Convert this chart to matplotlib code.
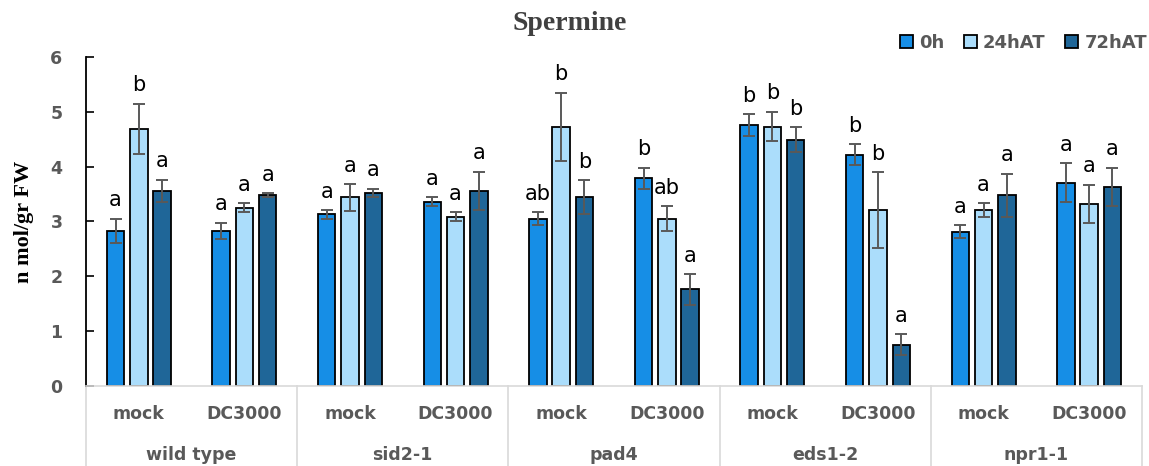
import matplotlib
matplotlib.use("Agg")
import matplotlib.pyplot as plt
import numpy as np

# Spermine content per genotype / treatment / time point
genotypes = ["wild type", "sid2-1", "pad4", "eds1-2", "npr1-1"]
treatments = ["mock", "DC3000"]
series = ["0h", "24hAT", "72hAT"]

# values ordered: wt mock, wt DC3000, sid2-1 mock, sid2-1 DC3000, ...
vals_0h = [2.83, 2.83, 3.13, 3.36, 3.05, 3.79, 4.76, 4.22, 2.81, 3.71]
vals_24h = [4.69, 3.25, 3.44, 3.09, 4.73, 3.05, 4.73, 3.21, 3.21, 3.32]
vals_72h = [3.56, 3.48, 3.52, 3.56, 3.44, 1.76, 4.49, 0.75, 3.48, 3.63]

err_0h = [0.22, 0.15, 0.08, 0.08, 0.12, 0.19, 0.20, 0.19, 0.12, 0.35]
err_24h = [0.46, 0.08, 0.24, 0.08, 0.62, 0.23, 0.27, 0.69, 0.12, 0.35]
err_72h = [0.20, 0.04, 0.08, 0.35, 0.31, 0.28, 0.23, 0.19, 0.39, 0.35]

let_0h = ["a", "a", "a", "a", "ab", "b", "b", "b", "a", "a"]
let_24h = ["b", "a", "a", "a", "b", "ab", "b", "b", "a", "a"]
let_72h = ["a", "a", "a", "a", "b", "a", "b", "a", "a", "a"]

colors = ["#168EE6", "#ABDDFB", "#1F6698"]
gray = "#595959"

values = [vals_0h, vals_24h, vals_72h]
errors = [err_0h, err_24h, err_72h]
letters = [let_0h, let_24h, let_72h]

fig = plt.figure(figsize=(11.49, 4.66), dpi=100)
ax = fig.add_axes([86 / 1149, 80 / 466, (1142 - 86) / 1149, 329 / 466])

n = len(vals_0h)
x = np.arange(n)
pitch = 0.22
width = 0.165

for k in range(3):
    xs = x + (k - 1) * pitch
    ax.bar(xs, values[k], width=width, color=colors[k], edgecolor="black",
           linewidth=1.3, label=series[k], zorder=2)
    ax.errorbar(xs, values[k], yerr=errors[k], fmt="none", ecolor=gray,
                elinewidth=1.4, capsize=4.5, capthick=1.4, zorder=3)
    for xi, v, e, t in zip(xs, values[k], errors[k], letters[k]):
        ax.annotate(t, (xi, v + e), xytext=(0, 6), textcoords="offset points",
                    ha="center", va="bottom", fontsize=15, color="black",
                    family="DejaVu Sans")

ax.set_xlim(-0.5, n - 0.5)
ax.set_ylim(0, 6)
ax.set_yticks(range(0, 7))
ax.tick_params(axis="y", direction="in", length=6, width=1.2, pad=17,
               labelsize=12.5, labelcolor=gray, color="black")
for lab in ax.get_yticklabels():
    lab.set_fontweight("bold")
ax.set_xticks([])

for s in ["top", "right"]:
    ax.spines[s].set_visible(False)
ax.spines["left"].set_linewidth(1.3)
ax.spines["bottom"].set_color("#D9D9D9")
ax.spines["bottom"].set_linewidth(1.2)

# multi-level category axis
trans = ax.get_xaxis_transform()
for i in range(n):
    ax.text(i, -0.085, treatments[i % 2], transform=trans, ha="center",
            va="center", fontsize=12.5, fontweight="bold", color=gray)
for g, name in enumerate(genotypes):
    ax.text(2 * g + 0.5, -0.21, name, transform=trans, ha="center",
            va="center", fontsize=12.5, fontweight="bold", color=gray)
for b in np.arange(-0.5, n, 2):
    ax.plot([b, b], [0, -0.245], transform=trans, color="#D9D9D9",
            linewidth=1.2, clip_on=False)

ax.set_ylabel("n mol/gr FW", family="Liberation Serif", fontweight="bold",
              fontsize=16, color="black", labelpad=12)

fig.text(570 / 1149, 1 - 24 / 466, "Spermine", family="Liberation Serif",
         fontweight="bold", fontsize=20, color="#404040", ha="center",
         va="center")

leg = fig.legend(loc="center right", bbox_to_anchor=(1147 / 1149, 1 - 43 / 466),
                 ncol=3, frameon=False, handlelength=0.7, handleheight=0.7,
                 handletextpad=0.35, columnspacing=1.1, borderpad=0,
                 borderaxespad=0, prop={"weight": "bold", "size": 13})
for t in leg.get_texts():
    t.set_color(gray)

fig.savefig("out.png", dpi=100)
